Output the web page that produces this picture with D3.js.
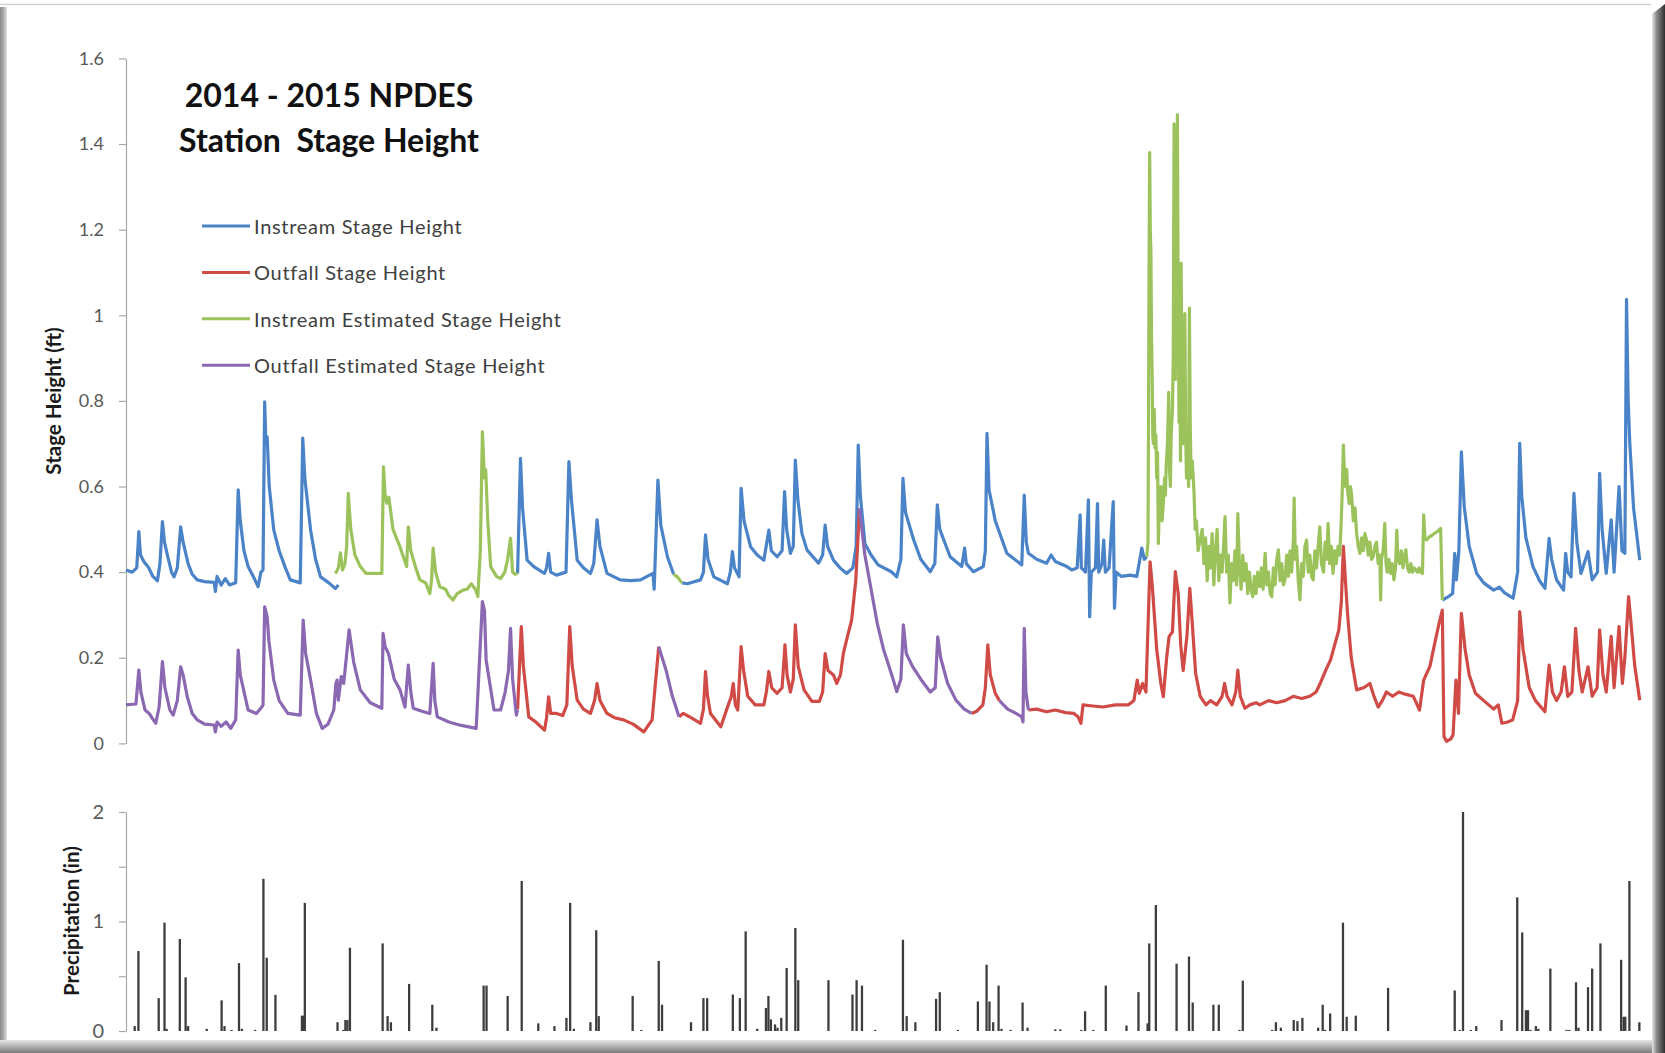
<!DOCTYPE html>
<html>
<head>
<meta charset="utf-8">
<script src="https://cdn.jsdelivr.net/npm/d3@7"></script>
<style>
  html, body { margin: 0; padding: 0; background: #ffffff; }
  svg { display: block; }
  text { font-family: Lato, "Open Sans", "Noto Sans", sans-serif; }
</style>
</head>
<body>
<svg id="chart" width="1665" height="1053"></svg>
<script>
// ---- Station stage heights, [day of monitoring year, feet]; null marks a gap ----
const instreamStage = [
  [0,0.405],[1.5,0.40],[2.6,0.41],[3.1,0.495],[3.5,0.44],[4.3,0.425],[5.5,0.41],[6.5,0.39],[7.6,0.38],[8.2,0.42],
  [8.8,0.518],[9.3,0.47],[10,0.44],[11.0,0.40],[11.6,0.389],[12.4,0.41],[13.2,0.506],[13.8,0.47],[15,0.42],[16,0.395],
  [17.2,0.382],[19,0.378],[21.3,0.376],[21.6,0.355],[22,0.39],[23,0.37],[24,0.385],[25,0.37],[26.5,0.375],[27.1,0.592],
  [27.6,0.52],[28.5,0.45],[29.5,0.413],[31,0.385],[31.9,0.366],[32.6,0.40],[33.1,0.405],[33.5,0.798],[33.8,0.70],[34.1,0.716],
  [34.6,0.60],[35.7,0.498],[37,0.45],[38.5,0.41],[39.7,0.382],[42.1,0.375],[42.7,0.713],[43.2,0.62],[44.6,0.498],[45.8,0.43],
  [47,0.389],[49,0.375],[50.6,0.362],[51.3,0.37],
  null,
  [94.6,0.397],[95.3,0.666],[95.8,0.55],[96.9,0.428],[98.5,0.413],[101.1,0.397],[101.6,0.41],[102.1,0.444],[102.6,0.40],[104,0.393],
  [106.3,0.40],[107,0.658],[107.6,0.57],[109,0.428],[110.5,0.41],[112.2,0.397],[113,0.42],[113.8,0.522],[114.5,0.46],[116.2,0.397],
  [119.4,0.382],[122,0.38],[124.3,0.382],[127.3,0.397],[127.6,0.36],[128.5,0.615],[129.2,0.51],[130.8,0.436],[132.3,0.395],
  null,
  [134.3,0.375],[135.6,0.373],[138.8,0.382],[139.5,0.40],[140,0.487],[140.6,0.43],[142,0.389],[145.3,0.373],[146,0.40],[146.5,0.448],
  [147,0.41],[148.1,0.389],[148.6,0.596],[149.3,0.52],[150.9,0.459],[152.5,0.44],[154.1,0.428],[155.3,0.498],[155.9,0.45],[157.3,0.436],
  [158.5,0.45],[159.1,0.588],[159.6,0.50],[160.5,0.444],[161.2,0.46],[161.7,0.662],[162.3,0.57],[163.3,0.49],[164.5,0.452],[167.3,0.421],
  [168.3,0.44],[168.9,0.51],[169.5,0.46],[170.9,0.428],[172.5,0.41],[174.1,0.397],[175.6,0.41],[176.4,0.46],[176.9,0.697],[177.4,0.58],
  [178.5,0.467],[180,0.44],[181.7,0.417],[184.9,0.401],[186.2,0.389],[187.2,0.43],[187.7,0.619],[188.3,0.54],[190.3,0.475],[192,0.43],
  [194.3,0.401],[195.4,0.42],[196,0.557],[196.6,0.50],[199.1,0.436],[201.9,0.413],[202.6,0.456],[203,0.42],[204.7,0.401],[207.1,0.413],
  [207.6,0.45],[208,0.724],[208.5,0.592],[210,0.52],[212.8,0.444],[216.4,0.417],[217,0.58],[217.5,0.47],[218,0.444],[220,0.43],
  [222.4,0.421],[223.5,0.44],[224.5,0.425],[227.3,0.413],[228.5,0.405],[229.8,0.41],[230.5,0.534],[230.8,0.41],[231.8,0.40],[232.5,0.569],
  [232.8,0.296],[233.2,0.40],[234.2,0.41],[234.7,0.56],[235,0.40],[235.8,0.42],[236.2,0.475],[236.6,0.40],[237.5,0.41],[238.5,0.565],
  [238.8,0.316],[239.2,0.40],[240.5,0.39],[242.6,0.393],[244.2,0.39],[245.4,0.456],[246.0,0.43],[246.6,0.436],
  null,
  [318,0.335],[319.5,0.343],[320.5,0.35],[321,0.444],[321.4,0.382],[322,0.45],[322.6,0.681],[323.3,0.553],[324.5,0.46],[326.3,0.397],
  [328,0.375],[330.4,0.358],[331.8,0.365],[333,0.352],[335.1,0.339],[336.2,0.40],[336.7,0.701],[337.2,0.576],[338.2,0.48],[339.9,0.413],
  [341.5,0.38],[342.8,0.362],[343.8,0.479],[344.4,0.43],[345.6,0.382],[347.3,0.358],[347.8,0.444],[348.3,0.40],[349.1,0.389],[349.8,0.584],
  [350.5,0.47],[351.5,0.397],[353.2,0.448],[354.2,0.382],[355.5,0.40],[356,0.631],[356.6,0.50],[357.6,0.397],[358.8,0.522],[359.5,0.40],
  [360.7,0.60],[361.4,0.45],[362.1,0.444],[362.5,1.037],[362.9,0.80],[363.3,0.70],[364.2,0.55],[365.7,0.428]
];

const outfallStage = [
  [94.6,0.08],[95.5,0.273],[96.0,0.18],[97.3,0.062],[99,0.05],[101.1,0.031],[101.6,0.06],[102.1,0.109],[102.6,0.07],[104,0.07],
  [105.5,0.065],[106.5,0.09],[107.2,0.273],[107.8,0.18],[109,0.101],[110.5,0.08],[112.2,0.07],[113.2,0.10],[113.8,0.14],[114.5,0.10],
  [116.2,0.07],[118,0.06],[120.2,0.055],[122.5,0.045],[125.1,0.027],[127.1,0.055],[128.7,0.226],
  null,
  [133.6,0.062],[134.6,0.07],[136.5,0.06],[138.8,0.047],[139.5,0.08],[140,0.168],[140.5,0.11],[141.2,0.07],[143.7,0.039],[145.5,0.09],
  [146.2,0.109],[146.7,0.14],[147.2,0.09],[147.8,0.078],[148.6,0.226],[149.2,0.17],[150.2,0.11],[152,0.09],[154.1,0.09],[154.7,0.12],
  [155.3,0.168],[156,0.13],[157.3,0.117],[158.5,0.13],[159.2,0.23],[159.7,0.16],[160.5,0.12],[161.2,0.15],[161.7,0.277],[162.4,0.18],
  [163.8,0.125],[165.7,0.098],[167.5,0.098],[168.3,0.12],[168.9,0.21],[169.6,0.17],[170.9,0.16],[171.7,0.14],[172.6,0.16],[173.3,0.21],
  [174.3,0.25],[175.3,0.288],[176.3,0.38],[177.2,0.549],
  null,
  [204.3,0.07],[205.5,0.075],[207,0.09],[207.6,0.13],[208.2,0.23],[208.8,0.16],[210,0.117],[211,0.10],
  null,
  [218,0.078],[220,0.08],[222.4,0.074],[224.5,0.078],[227,0.072],[229,0.07],[230,0.062],[230.7,0.047],[231.2,0.09],[233,0.088],
  [236,0.085],[239,0.09],[242.2,0.09],[243.5,0.10],[244.3,0.148],[244.8,0.117],[245.6,0.14],[246.4,0.12],[247.4,0.424],[248,0.36],
  [249,0.22],[250,0.14],[250.6,0.109],[251.4,0.20],[252,0.25],[252.8,0.26],[253.5,0.401],[254.2,0.35],[254.8,0.23],[255.4,0.17],
  [256.3,0.25],[257,0.362],[257.6,0.28],[258.4,0.164],[259.5,0.11],[260.9,0.09],[262,0.10],[263.5,0.09],[264.8,0.11],[265.4,0.14],
  [266,0.11],[267.2,0.09],[268.1,0.12],[268.6,0.171],[269.2,0.11],[270.3,0.082],[271.5,0.09],[273,0.095],[273.9,0.09],[276,0.10],
  [278,0.095],[280,0.10],[282,0.11],[284,0.105],[286,0.11],[287.5,0.12],[288.5,0.14],[289.8,0.17],[291,0.195],[292,0.23],
  [293,0.265],[293.6,0.33],[294.1,0.46],[294.6,0.38],[295.1,0.304],[296,0.20],[297.3,0.125],[299,0.13],[300.5,0.14],[301.5,0.11],
  [302.5,0.085],[303.5,0.10],[304.5,0.12],[306,0.11],[307.5,0.12],[309,0.115],[311,0.11],[312.5,0.078],[313.5,0.148],[315,0.18],
  [316,0.226],[317.2,0.28],[318,0.311],[318.4,0.016],[319,0.005],[320,0.01],[320.6,0.02],[321.3,0.148],[321.9,0.07],[322.6,0.304],
  [323.5,0.22],[324.5,0.16],[326,0.117],[328,0.10],[330.4,0.08],[331.5,0.09],[332.4,0.047],[333.8,0.05],[335,0.055],[336.2,0.10],
  [336.7,0.308],[337.5,0.22],[339,0.13],[340.5,0.10],[342.8,0.074],[343.8,0.183],[344.6,0.12],[345.6,0.10],[346.7,0.12],[347.5,0.179],
  [348.3,0.11],[349.3,0.12],[350.2,0.269],[351,0.17],[351.8,0.12],[353.2,0.179],[354.2,0.11],[355.4,0.13],[356,0.265],[356.8,0.16],
  [357.6,0.12],[358.8,0.25],[359.5,0.13],[360.7,0.273],[361.5,0.14],[362.1,0.20],[363,0.343],[363.6,0.28],[364.5,0.18],[365.7,0.101]
];

const instreamEstimated = [
  [50.6,0.397],[51.3,0.41],[51.8,0.445],[52.3,0.405],[52.9,0.42],[53.3,0.46],[53.7,0.584],[54.3,0.50],[55.3,0.44],[56.6,0.413],
  [58,0.397],[61.8,0.397],[62.2,0.646],[62.6,0.58],[63,0.561],[63.5,0.575],[64.5,0.50],[66.2,0.459],[67.2,0.43],[67.8,0.413],
  [68.2,0.506],[68.8,0.45],[70,0.41],[71,0.382],[72.4,0.375],[73.4,0.35],[73.8,0.38],[74.2,0.456],[74.8,0.40],[75.8,0.366],
  [77.2,0.36],[78,0.345],[79,0.335],[80,0.35],[81.4,0.358],[82.4,0.36],[83.4,0.373],[84.4,0.36],[85,0.343],[85.6,0.45],
  [86.1,0.728],[86.6,0.62],[86.9,0.639],[87.4,0.52],[88.1,0.413],[89.5,0.39],[90.5,0.385],[91.5,0.40],[92.2,0.43],[92.9,0.479],
  [93.4,0.40],[94,0.395],[94.6,0.397],
  null,
  [132.3,0.395],[133.2,0.389],[134.3,0.375],
  null,
  [246.6,0.436],[246.9,0.47],[247.0,0.70],[247.15,1.10],[247.3,1.38],[247.45,1.20],[247.6,1.15],[247.75,0.95],[247.9,0.86],[248.05,0.72],
  [248.2,0.70],[248.4,0.78],[248.6,0.69],[248.8,0.72],[249.0,0.62],[249.2,0.68],[249.4,0.467],[249.7,0.58],[250,0.60],[250.3,0.52],
  [250.6,0.561],[250.9,0.62],[251.1,0.58],[251.3,0.65],[251.6,0.70],[251.9,0.82],[252.1,0.64],[252.3,0.60],[252.5,0.72],[252.8,0.78],
  [253.0,0.90],[253.2,1.447],[253.35,1.05],[253.5,0.85],[253.7,1.30],[253.85,0.95],[254.0,1.469],[254.2,1.0],[254.4,0.75],[254.6,0.88],
  [254.75,0.66],[254.9,1.122],[255.1,0.85],[255.3,0.70],[255.55,0.80],[255.8,1.004],[256.0,0.72],[256.2,0.62],[256.5,0.70],[256.7,0.60],
  [256.9,1.017],[257.1,0.75],[257.3,0.62],[257.6,0.66],[258,0.59],[258.3,0.50],[258.6,0.52],[259.0,0.45],[259.5,0.475],[260,0.50],
  [260.4,0.42],[260.8,0.48],[261.2,0.38],[261.6,0.46],[262,0.41],[262.4,0.49],[262.8,0.37],[263.2,0.45],[263.6,0.50],[264,0.38],
  [264.4,0.44],[264.8,0.40],[265.2,0.47],[265.5,0.53],[265.9,0.40],[266.3,0.44],[266.7,0.328],[267.1,0.42],[267.5,0.38],[267.9,0.45],
  [268.3,0.37],[268.6,0.537],[269,0.41],[269.4,0.36],[269.8,0.44],[270.2,0.38],[270.6,0.42],[271,0.35],[271.4,0.40],[271.8,0.36],
  [272.2,0.343],[272.6,0.39],[273,0.35],[273.4,0.40],[273.9,0.366],[274.3,0.41],[274.7,0.36],[275.2,0.444],[275.6,0.37],[276,0.40],
  [276.4,0.35],[276.8,0.343],[277.2,0.41],[277.6,0.37],[278,0.43],[278.4,0.452],[278.8,0.38],[279.2,0.42],[279.6,0.37],[280,0.382],
  [280.4,0.44],[280.8,0.39],[281.2,0.45],[281.6,0.40],[282,0.47],[282.2,0.573],[282.5,0.43],[282.8,0.46],[283.2,0.38],[283.6,0.335],
  [284,0.42],[284.4,0.39],[284.8,0.46],[285.2,0.475],[285.6,0.40],[286,0.44],[286.4,0.39],[286.8,0.382],[287.2,0.45],[287.6,0.41],
  [288,0.46],[288.4,0.506],[288.8,0.42],[289.3,0.40],[289.7,0.47],[290.1,0.43],[290.4,0.514],[290.8,0.42],[291.2,0.46],[291.6,0.397],
  [292,0.45],[292.4,0.42],[292.8,0.46],[293.2,0.44],[293.5,0.50],[293.8,0.58],[294.1,0.697],[294.4,0.62],[294.6,0.60],[294.9,0.64],
  [295.1,0.592],[295.5,0.56],[295.8,0.60],[296.1,0.58],[296.5,0.52],[296.9,0.55],[297.3,0.491],[297.7,0.46],[298.1,0.444],[298.5,0.48],
  [298.9,0.45],[299.3,0.49],[299.7,0.475],[300.1,0.44],[300.5,0.47],[300.9,0.43],[301.3,0.436],[301.7,0.46],[302.1,0.47],[302.5,0.42],
  [302.9,0.44],[303.1,0.335],[303.3,0.43],[303.7,0.45],[304.1,0.514],[304.4,0.42],[304.7,0.40],[305.1,0.43],[305.5,0.397],[305.9,0.42],
  [306.3,0.382],[306.7,0.41],[307,0.498],[307.3,0.43],[307.7,0.42],[308.1,0.45],[308.5,0.41],[308.9,0.44],[309.2,0.452],[309.6,0.41],
  [310,0.40],[310.4,0.42],[310.8,0.40],[311.2,0.41],[311.6,0.405],[312,0.40],[312.4,0.41],[312.8,0.40],[313.2,0.397],[313.5,0.534],
  [313.8,0.48],[314.2,0.475],[314.8,0.482],[315.4,0.485],[316,0.49],[316.8,0.495],[317.6,0.502],[318.0,0.335]
];

const outfallEstimated = [
  [0,0.09],[2.4,0.092],[3.1,0.171],[3.6,0.12],[4.6,0.078],[5.6,0.07],[6.6,0.055],[7.2,0.047],[8.0,0.085],[8.8,0.191],
  [9.4,0.13],[10.6,0.078],[11.4,0.066],[12.4,0.10],[13.2,0.179],[13.8,0.16],[14.8,0.109],[16,0.07],[17.2,0.055],[19,0.045],
  [21.3,0.043],[21.6,0.027],[22,0.05],[23,0.04],[24.2,0.05],[25.3,0.035],[26.5,0.055],[27.1,0.218],[27.6,0.16],[29.5,0.078],
  [31.5,0.07],[32.8,0.085],[33.1,0.09],[33.5,0.319],[34.1,0.296],[34.5,0.241],[35.7,0.148],[37,0.10],[39.1,0.07],[42.1,0.066],
  [42.8,0.288],[43.4,0.21],[44.6,0.148],[46,0.07],[47.4,0.035],[48.8,0.045],[50.2,0.078],[50.7,0.14],[51,0.148],[51.3,0.101],
  [52,0.156],[52.6,0.14],[53.9,0.265],[55,0.19],[56.6,0.125],[59,0.095],[61.8,0.082],[62.1,0.257],[62.6,0.226],[63.4,0.21],
  [64.8,0.15],[66.2,0.125],[67.4,0.085],[68.2,0.183],[68.8,0.12],[69.4,0.082],[71.5,0.075],[73.4,0.07],[74.2,0.187],[74.6,0.10],
  [75.2,0.062],[78,0.05],[81,0.042],[84.6,0.035],[86.1,0.331],[86.6,0.31],[87.0,0.195],[88.9,0.078],[90.5,0.078],[91.6,0.12],
  [92.4,0.17],[92.9,0.269],[93.4,0.15],[94.3,0.066],[94.6,0.08],
  null,
  [128.7,0.226],[130.5,0.17],[132,0.11],[133.6,0.062],
  null,
  [177.2,0.549],[178.5,0.44],[180,0.36],[181.5,0.28],[183,0.22],[185,0.16],[186.2,0.121],[187.2,0.15],[187.8,0.277],[188.5,0.21],
  [190,0.18],[192,0.15],[194.3,0.12],[195.5,0.13],[196.1,0.249],[196.8,0.20],[198.5,0.14],[200.5,0.101],[202.5,0.08],[204.3,0.07],
  null,
  [211,0.10],[213,0.08],[215,0.07],[216.4,0.062],[216.7,0.05],[217,0.269],[217.4,0.12],[218,0.078]
];

// ---- Daily precipitation, [day, inches] ----
const precipitation = [
  [2.1,0.045],[3.0,0.73],[7.9,0.30],[9.3,0.99],[9.8,0.02],[13.0,0.84],[14.4,0.49],[15.0,0.045],[19.5,0.02],[23.1,0.28],
  [23.8,0.045],[25.5,0.01],[27.3,0.62],[28.0,0.02],[31.2,0.01],[33.2,1.39],[34.0,0.67],[36.1,0.33],[42.5,0.14],[42.9,0.14],
  [43.2,1.17],[51.1,0.08],[52.5,0.01],[53.0,0.10],[53.5,0.10],[54.1,0.76],[62.0,0.80],[63.2,0.136],[64.0,0.08],[68.4,0.43],
  [74.0,0.24],[75.0,0.03],[86.4,0.415],[87.1,0.415],[92.2,0.32],[95.6,1.37],[99.6,0.07],[103.5,0.045],[106.4,0.12],[107.3,1.17],
  [108.2,0.02],[112.2,0.08],[113.6,0.92],[114.2,0.136],[122.4,0.32],[124.5,0.01],[128.7,0.64],[129.5,0.24],[136.5,0.08],[139.5,0.30],
  [140.4,0.30],[146.6,0.333],[148.3,0.30],[149.7,0.91],[152.5,0.02],[154.6,0.21],[155.2,0.32],[155.8,0.106],[156.8,0.06],[157.4,0.03],
  [158.3,0.12],[159.6,0.576],[161.7,0.94],[162.4,0.464],[169.7,0.464],[175.5,0.333],[176.5,0.464],[177.8,0.415],[181.0,0.01],[187.7,0.833],
  [188.6,0.136],[190.7,0.08],[195.7,0.294],[196.6,0.355],[201.0,0.01],[205.8,0.27],[207.9,0.606],[208.6,0.27],[209.5,0.08],[210.8,0.415],
  [211.5,0.02],[213.7,0.01],[216.6,0.26],[217.8,0.03],[224.5,0.015],[225.7,0.015],[230.8,0.01],[231.7,0.18],[233.7,0.01],[236.7,0.415],
  [241.7,0.05],[244.6,0.355],[246.8,0.07],[247.2,0.80],[248.8,1.15],[253.8,0.615],[256.8,0.68],[257.7,0.26],[262.7,0.24],[264.0,0.24],
  [269.0,0.01],[269.8,0.46],[276.9,0.01],[277.8,0.08],[279.0,0.03],[282.1,0.10],[283.0,0.09],[284.2,0.12],[288.0,0.03],[289.1,0.24],
  [289.7,0.01],[290.9,0.16],[294.0,0.99],[294.9,0.13],[297.1,0.14],[304.9,0.394],[321.0,0.37],[322.2,0.01],[323.0,2.0],[324.9,0.01],
  [326.2,0.045],[332.3,0.10],[336.1,1.22],[337.3,0.90],[338.2,0.19],[338.7,0.19],[339.3,0.01],[340.6,0.045],[341.2,0.02],[344.1,0.57],
  [348.0,0.01],[348.7,0.01],[350.3,0.445],[350.9,0.03],[353.2,0.40],[354.2,0.57],[356.2,0.80],[361.2,0.65],[361.8,0.13],[362.2,0.13],
  [363.2,1.37],[365.6,0.08]
];

// ---- Axis ticks and labels ----
const stageTicks = [0, 0.2, 0.4, 0.6, 0.8, 1.0, 1.2, 1.4, 1.6];
const stageTickLabels = ["0", "0.2", "0.4", "0.6", "0.8", "1", "1.2", "1.4", "1.6"];
const precipTicks = [0, 0.5, 1, 1.5, 2];
const precipTickLabels = ["0", "", "1", "", "2"];

const seriesNames = ["Instream Stage Height", "Outfall Stage Height", "Instream Estimated Stage Height", "Outfall Estimated Stage Height"];
const seriesColors = ["#4a83c8", "#d04a46", "#9cc35b", "#8a68b2"];
const titleLines = ["2014 - 2015 NPDES", "Station  Stage Height"];

// ---- Layout ----
const W = 1665, H = 1053;
const svg = d3.select("#chart");
const plotLeft = 126, plotRight = 1641;

const x = d3.scaleLinear().domain([0, 366]).range([plotLeft, plotRight]);
const yStage = d3.scaleLinear().domain([0, 1.6]).range([743.4, 58.4]);
const yPrecip = d3.scaleLinear().domain([0, 2]).range([1031, 812]);

// ---- Picture frame with soft shadow edges ----
const defs = svg.append("defs");
function grad(id, x1, y1, x2, y2, stops) {
  const g = defs.append("linearGradient").attr("id", id)
    .attr("x1", x1).attr("y1", y1).attr("x2", x2).attr("y2", y2);
  stops.forEach(([o, c]) => g.append("stop").attr("offset", o).attr("stop-color", c));
}
grad("edgeLeft", 0, 0, 1, 0, [[0, "#8a8a8a"], [0.6, "#b4b4b4"], [1, "#e4e4e4"]]);
grad("edgeRight", 0, 0, 1, 0, [[0, "#e6e6e6"], [0.35, "#8c8c8c"], [1, "#2e2e2e"]]);
grad("edgeBottom", 0, 0, 0, 1, [[0, "#e8e8e8"], [0.5, "#b0b0b0"], [1, "#7a7a7a"]]);

svg.append("rect").attr("width", W).attr("height", H).attr("fill", "#ffffff");
svg.append("line").attr("x1", 0).attr("x2", W - 14).attr("y1", 4.5).attr("y2", 4.5)
  .attr("stroke", "#d2d2d2").attr("stroke-width", 1.5);
svg.append("rect").attr("x", 0).attr("y", 7).attr("width", 7).attr("height", H - 7).attr("fill", "url(#edgeLeft)");
svg.append("path").attr("d", `M${W - 13},14 L${W},4 L${W},${H} L${W - 13},${H} Z`).attr("fill", "url(#edgeRight)");
svg.append("rect").attr("x", 0).attr("y", H - 13).attr("width", W - 13).attr("height", 13).attr("fill", "url(#edgeBottom)");

// ---- Axes ----
function styleAxis(g) {
  g.select(".domain").attr("stroke", "#a9a9a9").attr("stroke-width", 1.2);
  g.selectAll(".tick line").attr("stroke", "#a9a9a9").attr("stroke-width", 1.2);
  g.selectAll(".tick text").attr("fill", "#595959").style("font-size", "18px")
    .style("font-family", "Lato, 'Open Sans', sans-serif");
}
svg.append("g").attr("transform", `translate(${plotLeft},0)`)
  .call(d3.axisLeft(yStage).tickValues(stageTicks)
    .tickFormat((d, i) => stageTickLabels[i]).tickSize(7).tickSizeOuter(0).tickPadding(15))
  .call(styleAxis);
svg.append("g").attr("transform", `translate(${plotLeft},0)`)
  .call(d3.axisLeft(yPrecip).tickValues(precipTicks)
    .tickFormat((d, i) => precipTickLabels[i]).tickSize(7).tickSizeOuter(0).tickPadding(15))
  .call(styleAxis)
  .selectAll(".tick text").style("font-size", "20px");

svg.append("text").attr("transform", `translate(56,401) rotate(-90)`)
  .attr("text-anchor", "middle").attr("dominant-baseline", "middle")
  .attr("font-weight", "bold").attr("font-size", 20.5).attr("fill", "#1a1a1a")
  .text("Stage Height (ft)");
svg.append("text").attr("transform", `translate(74,921) rotate(-90)`)
  .attr("text-anchor", "middle").attr("dominant-baseline", "middle")
  .attr("font-weight", "bold").attr("font-size", 20.5).attr("fill", "#1a1a1a")
  .text("Precipitation (in)");

// ---- Precipitation bars ----
const barW = x(0.55) - x(0);
svg.append("g").selectAll("rect").data(precipitation).join("rect")
  .attr("x", d => x(d[0]) - barW / 2)
  .attr("y", d => yPrecip(d[1]))
  .attr("width", barW)
  .attr("height", d => yPrecip(0) - yPrecip(d[1]))
  .attr("fill", "#3d3d3d");

// ---- Stage height lines ----
const line = d3.line()
  .defined(d => d !== null)
  .x(d => x(d[0]))
  .y(d => yStage(d[1]));

const stageSeries = [instreamStage, outfallStage, instreamEstimated, outfallEstimated];
svg.append("g").selectAll("path").data(stageSeries).join("path")
  .attr("d", d => line(d))
  .attr("fill", "none")
  .attr("stroke", (d, i) => seriesColors[i])
  .attr("stroke-width", 3.2)
  .attr("stroke-linejoin", "round");

// ---- Title ----
const title = svg.append("text").attr("text-anchor", "middle")
  .attr("font-weight", "bold").attr("font-size", 32).attr("fill", "#111")
  .style("white-space", "pre");
title.selectAll("tspan").data(titleLines).join("tspan")
  .attr("x", 329).attr("y", (d, i) => 107 + i * 45)
  .text(d => d);

// ---- Legend ----
const legend = svg.append("g").attr("transform", "translate(202,226)");
const rows = legend.selectAll("g").data(seriesNames).join("g")
  .attr("transform", (d, i) => `translate(0,${i * 46.4})`);
rows.append("line").attr("x1", 0).attr("x2", 48).attr("y1", 0).attr("y2", 0)
  .attr("stroke", (d, i) => seriesColors[i]).attr("stroke-width", 3);
rows.append("text").attr("x", 52).attr("y", 0).attr("dominant-baseline", "central")
  .attr("font-size", 20).attr("fill", "#404040").attr("letter-spacing", 0.7)
  .text(d => d);
</script>
</body>
</html>
